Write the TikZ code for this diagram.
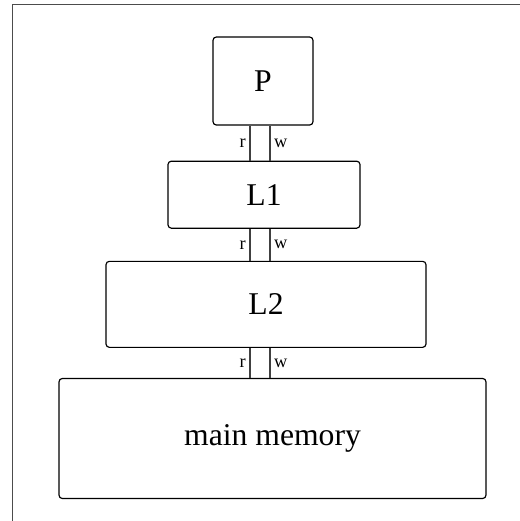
\documentclass[tikz,border=0pt]{standalone}
\usepackage{fontspec}
\setmainfont{Liberation Serif}
\usetikzlibrary{positioning}

\begin{document}
\begin{tikzpicture}[
    x=0.6pt, y=-0.6pt,
    every node/.style={font=\fontsize{19}{23}\selectfont},
    unit/.style={rectangle, rounded corners=2pt, draw=black, line width=0.7pt, inner sep=0pt},
    bus/.style={line width=1pt, draw=black!75},
    tag/.style={font=\fontsize{11}{13}\selectfont, inner sep=2pt}
]
\useasboundingbox (0,0) rectangle (520,521);
\draw[black!70, line width=0.6pt] (13,521) -- (13,4) -- (520,4);

\node[unit, minimum width=60pt, minimum height=52.8pt] (P) at (263,81) {P};

\node[unit, minimum width=115.2pt, minimum height=40.2pt, below=21pt of P, xshift=0.6pt] (L1) {L1};

\node[unit, minimum width=192pt, minimum height=51.6pt, below=19.2pt of L1, xshift=1.2pt] (L2) {L2};

\node[unit, minimum width=256.2pt, minimum height=72pt, below=18pt of L2, xshift=3.9pt] (mem) {main memory};

\coordinate (rline) at (250,0);
\coordinate (wline) at (270,0);

\foreach \upper/\lower in {P/L1, L1/L2, L2/mem}
    \draw[bus] (rline |- \upper.south) -- node[tag, left] {r} (rline |- \lower.north)
               (wline |- \upper.south) -- node[tag, right] {w} (wline |- \lower.north);

\end{tikzpicture}
\end{document}
